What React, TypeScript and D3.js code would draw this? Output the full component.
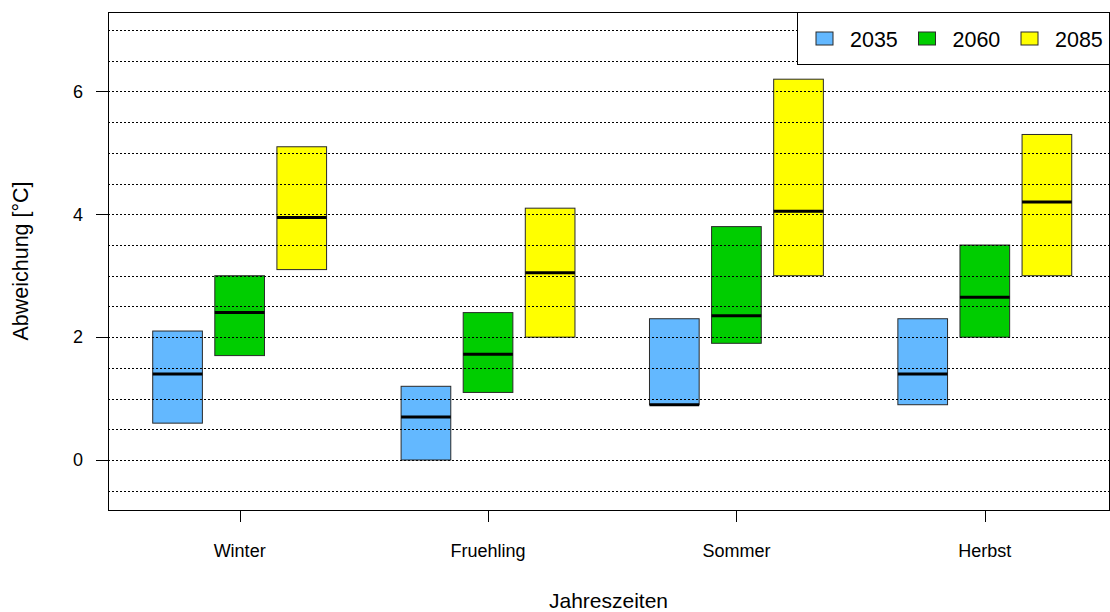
import React from "react";
import * as d3 from "d3";

// Seasonal temperature deviation ranges per scenario year
const seasons = ["Winter", "Fruehling", "Sommer", "Herbst"];
const years = ["2035", "2060", "2085"];
const yearColors = ["#63B8FF", "#00CD00", "#FFFF00"];

// [low, median, high] per season, one array per year
const lo2035 = [0.6, 0.0, 0.9, 0.9];
const med2035 = [1.4, 0.7, 0.9, 1.4];
const hi2035 = [2.1, 1.2, 2.3, 2.3];

const lo2060 = [1.7, 1.1, 1.9, 2.0];
const med2060 = [2.4, 1.72, 2.35, 2.65];
const hi2060 = [3.0, 2.4, 3.8, 3.5];

const lo2085 = [3.1, 2.0, 3.0, 3.0];
const med2085 = [3.95, 3.05, 4.05, 4.2];
const hi2085 = [5.1, 4.1, 6.2, 5.3];

const yTicks = [0, 2, 4, 6];
const gridValues = d3.range(-0.5, 7.01, 0.5);

const W = 1110;
const H = 612;
const FONT = "'Liberation Sans', Arial, Helvetica, sans-serif";

const plot = { left: 108, right: 1109, top: 12, bottom: 510 };

export default function App() {
  const y = d3.scaleLinear().domain([-0.814, 7.294]).range([plot.bottom, plot.top]);
  const x = d3.scaleLinear().domain([0.47, 4.5]).range([plot.left, plot.right]);

  const series = [
    { year: years[0], color: yearColors[0], lo: lo2035, med: med2035, hi: hi2035, offset: -0.25 },
    { year: years[1], color: yearColors[1], lo: lo2060, med: med2060, hi: hi2060, offset: 0 },
    { year: years[2], color: yearColors[2], lo: lo2085, med: med2085, hi: hi2085, offset: 0.25 },
  ];
  const boxW = x(0.2) - x(0);

  const boxes = series.flatMap((s) =>
    seasons.map((season, i) => {
      const cx = x(i + 1 + s.offset);
      return {
        key: `${s.year}-${season}`,
        color: s.color,
        x0: cx - boxW / 2,
        yTop: y(s.hi[i]),
        yBot: y(s.lo[i]),
        yMed: y(s.med[i]),
      };
    })
  );

  const legendX = [816, 918.5, 1021];

  return (
    <svg
      width={W}
      height={H}
      style={{ position: "fixed", left: 0, top: 0, background: "#fff" }}
      fontFamily={FONT}
    >
      <rect x={0} y={0} width={W} height={H} fill="#fff" />

      {/* boxes */}
      {boxes.map((b) => (
        <g key={b.key}>
          <rect
            x={b.x0}
            y={b.yTop}
            width={boxW}
            height={b.yBot - b.yTop}
            fill={b.color}
            stroke="#2a2a2a"
            strokeWidth={1}
          />
          <line x1={b.x0} x2={b.x0 + boxW} y1={b.yMed} y2={b.yMed} stroke="#000" strokeWidth={3} />
        </g>
      ))}

      {/* dotted horizontal guides */}
      {gridValues.map((v) => (
        <line
          key={v}
          x1={plot.left}
          x2={plot.right}
          y1={Math.round(y(v)) + 0.5}
          y2={Math.round(y(v)) + 0.5}
          stroke="#000"
          strokeWidth={1}
          strokeDasharray="2,2"
        />
      ))}

      {/* frame */}
      <rect
        x={plot.left + 0.5}
        y={plot.top + 0.5}
        width={plot.right - plot.left}
        height={plot.bottom - plot.top}
        fill="none"
        stroke="#000"
        strokeWidth={1}
      />

      {/* y axis */}
      {yTicks.map((t) => (
        <g key={t}>
          <line x1={96} x2={plot.left} y1={Math.round(y(t)) + 0.5} y2={Math.round(y(t)) + 0.5} stroke="#000" />
          <text x={78} y={y(t)} dy="0.35em" textAnchor="middle" fontSize={18} fill="#000">
            {t}
          </text>
        </g>
      ))}
      <text
        transform={`translate(28, ${(plot.top + plot.bottom) / 2}) rotate(-90)`}
        textAnchor="middle"
        fontSize={21.5}
        fill="#000"
      >
        Abweichung [°C]
      </text>

      {/* x axis */}
      {seasons.map((s, i) => (
        <g key={s}>
          <line x1={Math.round(x(i + 1)) + 0.5} x2={Math.round(x(i + 1)) + 0.5} y1={plot.bottom} y2={522} stroke="#000" />
          <text x={x(i + 1)} y={557} textAnchor="middle" fontSize={18} fill="#000">
            {s}
          </text>
        </g>
      ))}
      <text x={(plot.left + plot.right) / 2} y={608} textAnchor="middle" fontSize={21} fill="#000">
        Jahreszeiten
      </text>

      {/* legend */}
      <rect x={797.5} y={12.5} width={plot.right - 797} height={52} fill="#fff" stroke="#000" />
      {series.map((s, i) => (
        <g key={s.year}>
          <rect x={legendX[i]} y={32} width={17} height={13} fill={s.color} stroke="#2a2a2a" />
          <text x={legendX[i] + 34} y={47} fontSize={21.5} fill="#000">
            {s.year}
          </text>
        </g>
      ))}
    </svg>
  );
}
